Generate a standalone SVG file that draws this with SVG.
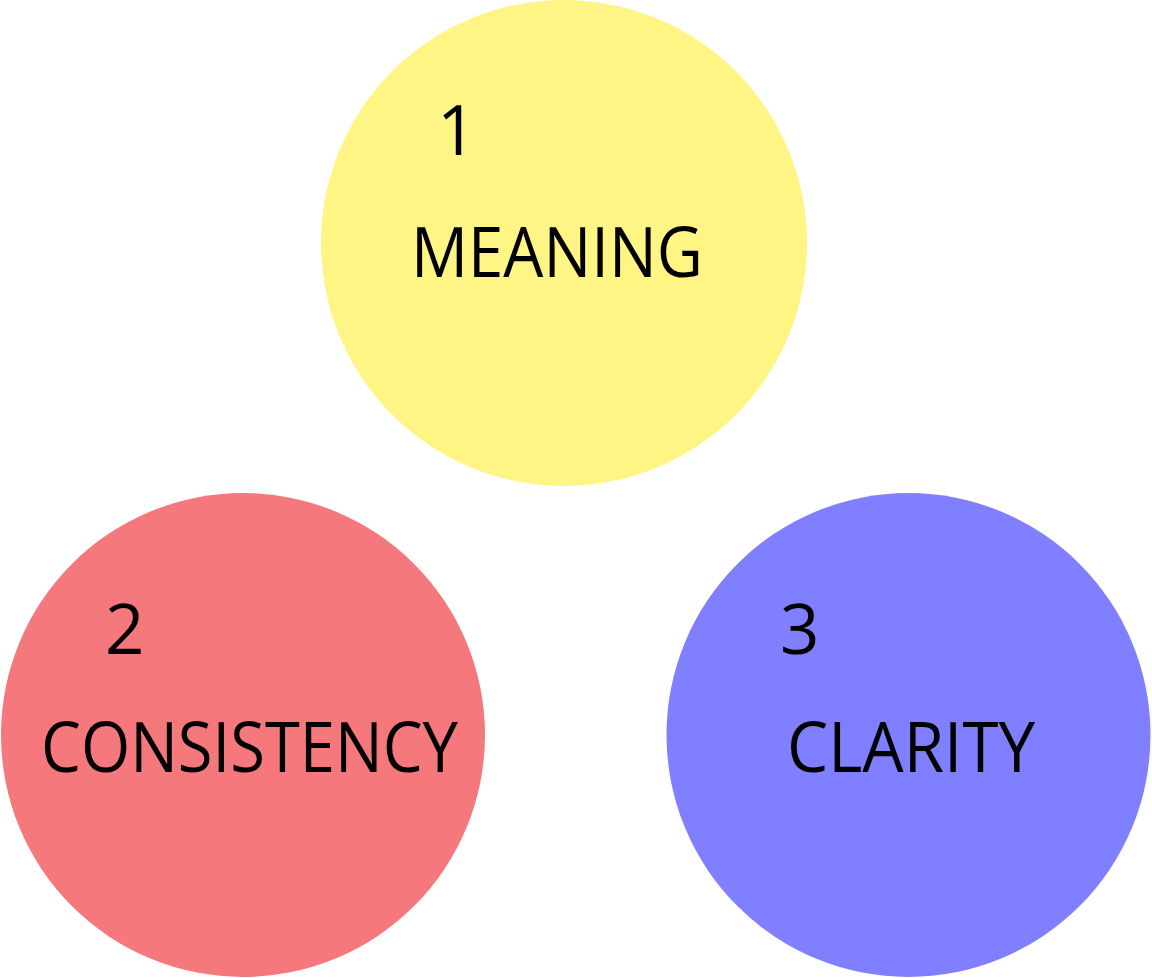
<svg xmlns="http://www.w3.org/2000/svg" width="1152" height="978" viewBox="0 0 1152 978">
<style>
text{font-family:"Open Sans","Noto Sans","DejaVu Sans",sans-serif;font-size:69px;fill:#000}
</style>
<rect width="1152" height="978" fill="#fff"/>
<g id="node-meaning">
<circle cx="564" cy="243" r="243" fill="#FFF585"/>
<text x="437" y="155">1</text>
<text x="411" y="277" textLength="292" lengthAdjust="spacingAndGlyphs">MEANING</text>
</g>
<g id="node-consistency">
<circle cx="243" cy="735" r="242" fill="#F4787C"/>
<text x="105" y="654">2</text>
<text x="41" y="772" textLength="417" lengthAdjust="spacingAndGlyphs">CONSISTENCY</text>
</g>
<g id="node-clarity">
<circle cx="908.5" cy="735" r="242" fill="#7F7FFF"/>
<text x="780" y="654">3</text>
<text x="787" y="772" textLength="248" lengthAdjust="spacingAndGlyphs">CLARITY</text>
</g>
<g id="connectors"></g>
</svg>
